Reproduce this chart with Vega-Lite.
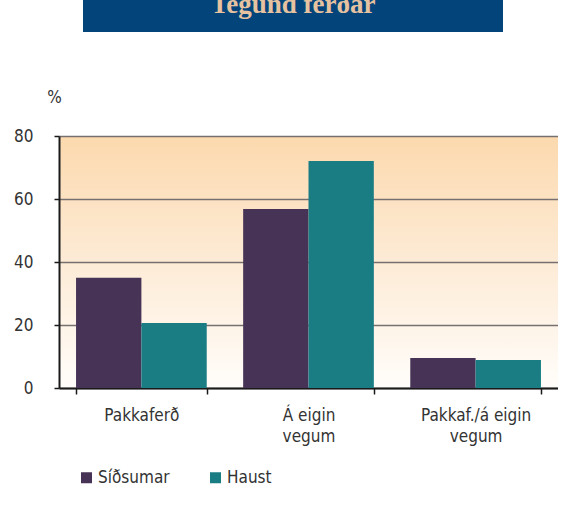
{
  "$schema": "https://vega.github.io/schema/vega-lite/v6.json",
  "autosize": {"type": "pad"},
  "padding": {"left": 13, "top": 0, "right": 0, "bottom": 0},
  "background": "white",
  "config": {
    "view": {"stroke": null},
    "font": "DejaVu Sans Condensed, DejaVu Sans, sans-serif"
  },
  "spacing": 136,
  "bounds": "flush",
  "vconcat": [
    {
      "hconcat": [
        {
          "width": 24,
          "height": 32,
          "data": {"values": []},
          "mark": "point",
          "view": {"stroke": null, "fill": null}
        },
        {
          "width": 420,
          "height": 32,
          "view": {"fill": "#03457a", "stroke": null},
          "data": {"values": [{"t": "Tegund ferðar"}]},
          "mark": {
            "type": "text",
            "clip": true,
            "font": "Liberation Serif",
            "fontWeight": "bold",
            "fontSize": 27,
            "color": "#e6c2a0",
            "baseline": "alphabetic",
            "align": "center",
            "dy": -3.5
          },
          "encoding": {"text": {"field": "t", "type": "nominal"}}
        }
      ],
      "spacing": 0,
      "bounds": "flush"
    },
    {
      "width": 499,
      "height": 252,
      "view": {
        "stroke": null,
        "fill": {
          "gradient": "linear",
          "x1": 0, "y1": 0, "x2": 0, "y2": 1,
          "stops": [
            {"offset": 0, "color": "#fcd9ae"},
            {"offset": 0.5, "color": "#fdebd6"},
            {"offset": 1, "color": "#fffdfa"}
          ]
        }
      },
      "data": {
        "values": [
          {"ferd": "Pakkaferð", "timabil": "Síðsumar", "pct": 35.0},
          {"ferd": "Pakkaferð", "timabil": "Haust", "pct": 20.6},
          {"ferd": "Á eigin vegum", "timabil": "Síðsumar", "pct": 56.8},
          {"ferd": "Á eigin vegum", "timabil": "Haust", "pct": 72.1},
          {"ferd": "Pakkaf./á eigin vegum", "timabil": "Síðsumar", "pct": 9.5},
          {"ferd": "Pakkaf./á eigin vegum", "timabil": "Haust", "pct": 8.9}
        ]
      },
      "mark": {"type": "bar"},
      "encoding": {
        "x": {
          "field": "ferd",
          "type": "nominal",
          "sort": ["Pakkaferð", "Á eigin vegum", "Pakkaf./á eigin vegum"],
          "scale": {"paddingInner": 0.218, "paddingOuter": 0.102},
          "axis": {
            "title": null,
            "labelAngle": 0,
            "labelExpr": "datum.label == 'Á eigin vegum' ? ['Á eigin', 'vegum'] : datum.label == 'Pakkaf./á eigin vegum' ? ['Pakkaf./á eigin', 'vegum'] : datum.label",
            "tickBand": "extent",
            "tickSize": 6,
            "tickWidth": 1.5,
            "tickColor": "#1a1a1a",
            "domainColor": "#1a1a1a",
            "domainWidth": 2,
            "labelFontSize": 17,
            "labelLineHeight": 21,
            "labelColor": "#333333",
            "labelPadding": 13,
            "grid": false
          }
        },
        "xOffset": {
          "field": "timabil",
          "type": "nominal",
          "sort": ["Síðsumar", "Haust"],
          "scale": {"paddingInner": 0, "paddingOuter": 0}
        },
        "y": {
          "field": "pct",
          "type": "quantitative",
          "scale": {"domain": [0, 80]},
          "axis": {
            "title": "%",
            "titleAngle": 0,
            "titleAlign": "center",
            "titleBaseline": "middle",
            "titleX": -5,
            "titleY": -39,
            "titleFontSize": 17,
            "titleFontWeight": "normal",
            "titleColor": "#333333",
            "values": [0, 20, 40, 60, 80],
            "grid": true,
            "gridColor": "#777070",
            "gridWidth": 1.5,
            "domainColor": "#1a1a1a",
            "domainWidth": 2,
            "tickColor": "#1a1a1a",
            "tickSize": 5,
            "tickWidth": 1.5,
            "labelPadding": 21,
            "labelFontSize": 17,
            "labelColor": "#333333"
          }
        },
        "color": {
          "field": "timabil",
          "type": "nominal",
          "scale": {"domain": ["Síðsumar", "Haust"], "range": ["#473356", "#1a7d84"]},
          "legend": {
            "title": null,
            "orient": "none",
            "direction": "horizontal",
            "legendX": 19,
            "legendY": 469,
            "padding": 0,
            "symbolType": "square",
            "symbolSize": 121,
            "symbolStrokeWidth": 0,
            "labelFontSize": 17,
            "labelColor": "#333333",
            "labelOffset": 3,
            "columnPadding": 37
          }
        }
      }
    }
  ]
}
